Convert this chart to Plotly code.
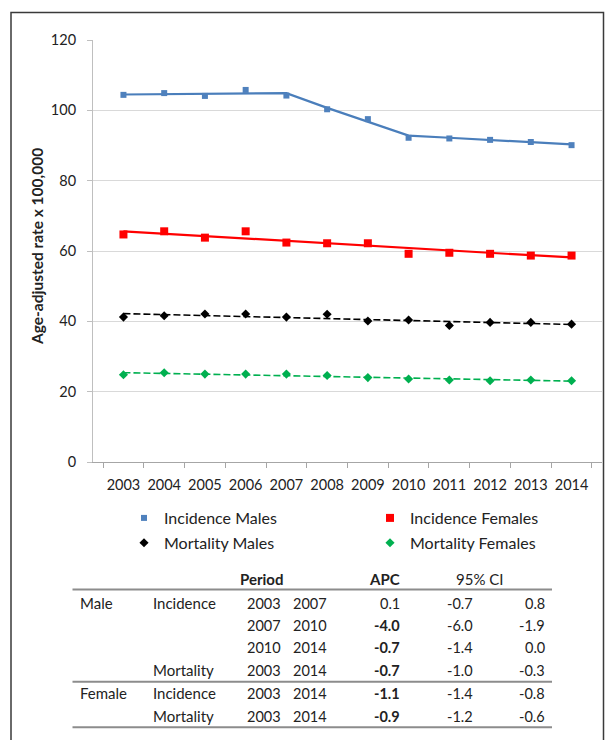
import plotly.graph_objects as go

# Observed age-adjusted rates per 100,000
years = ["2003", "2004", "2005", "2006", "2007", "2008",
         "2009", "2010", "2011", "2012", "2013", "2014"]
inc_males = [104.4, 104.9, 104.1, 105.8, 104.2, 100.3, 97.5, 92.2, 92.0, 91.6, 91.0, 90.1]
inc_females = [64.7, 65.6, 63.8, 65.6, 62.4, 62.2, 62.2, 59.2, 59.5, 59.2, 58.7, 58.7]
mort_males = [41.2, 41.6, 42.1, 42.1, 41.2, 42.0, 40.1, 40.4, 38.8, 39.7, 39.7, 39.2]
mort_females = [24.8, 25.4, 25.0, 25.0, 25.0, 24.6, 24.0, 23.6, 23.3, 23.1, 23.3, 23.1]

# Joinpoint fitted trends
fit_inc_males = [104.5, 104.6, 104.7, 104.8, 104.9, 100.7, 96.7, 92.8, 92.2, 91.5, 90.9, 90.3]
fit_inc_females = [65.6, 64.9, 64.2, 63.5, 62.8, 62.1, 61.4, 60.7, 60.0, 59.4, 58.8, 58.2]
fit_mort_males = [42.2, 41.9, 41.6, 41.3, 41.0, 40.7, 40.5, 40.2, 39.9, 39.6, 39.4, 39.1]
fit_mort_females = [25.4, 25.2, 24.9, 24.7, 24.5, 24.3, 24.1, 23.8, 23.6, 23.4, 23.2, 23.0]

# APC summary table
tbl_sex = ["Male", "", "", "", "Female", ""]
tbl_measure = ["Incidence", "", "", "Mortality", "Incidence", "Mortality"]
tbl_start = ["2003", "2007", "2010", "2003", "2003", "2003"]
tbl_end = ["2007", "2010", "2014", "2014", "2014", "2014"]
tbl_apc = ["0.1", "-4.0", "-0.7", "-0.7", "-1.1", "-0.9"]
tbl_apc_bold = [False, True, True, True, True, True]
tbl_ci_low = ["-0.7", "-6.0", "-1.4", "-1.0", "-1.4", "-1.2"]
tbl_ci_high = ["0.8", "-1.9", "0.0", "-0.3", "-0.8", "-0.6"]

FONT = "Lato"
TXT = "#222222"
W, H = 606, 740
L, R, T, B = 93, 4, 40, 278
PW, PH = W - L - R, H - T - B


def fx(p):
    return (p - L) / PW


def fy(p):
    return (H - B - p) / PH


fig = go.Figure()

# fitted trend lines
fig.add_trace(go.Scatter(x=years, y=fit_inc_males, mode="lines", showlegend=False,
                         line=dict(color="#4A7EBB", width=2.2), hoverinfo="skip"))
fig.add_trace(go.Scatter(x=years, y=fit_inc_females, mode="lines", showlegend=False,
                         line=dict(color="#FF0000", width=2.2), hoverinfo="skip"))
fig.add_trace(go.Scatter(x=years, y=fit_mort_males, mode="lines", showlegend=False,
                         line=dict(color="#000000", width=1.6, dash="7px,3px"), hoverinfo="skip"))
fig.add_trace(go.Scatter(x=years, y=fit_mort_females, mode="lines", showlegend=False,
                         line=dict(color="#00B050", width=1.6, dash="7px,3px"), hoverinfo="skip"))

# observed rates (males in the left legend column, females in the right one)
fig.add_trace(go.Scatter(x=years, y=inc_males, mode="markers", name="Incidence Males",
                         legend="legend", legendgroup="im",
                         marker=dict(symbol="square", size=6, color="#4F81BD")))
fig.add_trace(go.Scatter(x=years, y=inc_females, mode="markers", name="Incidence Females",
                         legend="legend2", legendgroup="if",
                         marker=dict(symbol="square", size=8, color="#FF0000")))
fig.add_trace(go.Scatter(x=years, y=mort_males, mode="markers", name="Mortality Males",
                         legend="legend", legendgroup="mm",
                         marker=dict(symbol="diamond", size=7, color="#000000")))
fig.add_trace(go.Scatter(x=years, y=mort_females, mode="markers", name="Mortality Females",
                         legend="legend2", legendgroup="mf",
                         marker=dict(symbol="diamond", size=7, color="#00B050")))

fig.update_xaxes(type="category", showgrid=False, showline=True, linecolor="#A6A6A6",
                 linewidth=1, ticks="outside", tickson="boundaries", ticklen=5,
                 tickcolor="#A6A6A6", tickangle=0, ticklabelstandoff=10,
                 tickfont=dict(family=FONT, size=14.5, color=TXT))
fig.update_yaxes(range=[0, 120], dtick=20, showgrid=True, gridcolor="#D9D9D9",
                 gridwidth=1, zeroline=False, showline=True, linecolor="#BFBFBF",
                 ticks="outside", ticklen=5, tickcolor="#BFBFBF", ticklabelstandoff=8,
                 tickfont=dict(family=FONT, size=14.5, color=TXT))

annotations = [
    dict(text="<b>Age-adjusted rate x 100,000</b>", x=fx(36.5), y=fy(246.5),
         textangle=-90, showarrow=False, xanchor="center", yanchor="middle",
         xref="paper", yref="paper",
         font=dict(family=FONT, size=15.5, color=TXT)),
]

WORD, NUM = 15, 14.5


def cell(text, x, y, anchor, size):
    return dict(text=text, x=fx(x), y=fy(y), xanchor=anchor, yanchor="middle",
                xref="paper", yref="paper", showarrow=False,
                font=dict(family=FONT, size=size, color=TXT))


# table header
hdr_y = 579
annotations += [
    cell("<b>Period</b>", 261.5, hdr_y, "center", WORD),
    cell("<b>APC</b>", 401.5, hdr_y, "right", WORD),
    cell("95% CI", 479, hdr_y, "center", WORD),
]

row_y = [603.3, 625.5, 647.8, 670.3, 693.3, 716]
for i, yy in enumerate(row_y):
    if tbl_sex[i]:
        annotations.append(cell(tbl_sex[i], 78, yy, "left", WORD))
    if tbl_measure[i]:
        annotations.append(cell(tbl_measure[i], 150.5, yy, "left", WORD))
    annotations.append(cell(tbl_start[i], 283, yy, "right", NUM))
    annotations.append(cell(tbl_end[i], 328.5, yy, "right", NUM))
    apc = f"<b>{tbl_apc[i]}</b>" if tbl_apc_bold[i] else tbl_apc[i]
    annotations.append(cell(apc, 401.5, yy, "right", NUM))
    annotations.append(cell(tbl_ci_low[i], 474.5, yy, "right", NUM))
    annotations.append(cell(tbl_ci_high[i], 547, yy, "right", NUM))

shapes = [
    # outer frame
    dict(type="rect", xref="paper", yref="paper", x0=fx(11), x1=fx(603.5),
         y0=fy(760), y1=fy(12.5), line=dict(color="#3A3A3A", width=1.5),
         fillcolor="rgba(0,0,0,0)", layer="below"),
]
for ly in (589.5, 681.7, 727.3):
    shapes.append(dict(type="line", xref="paper", yref="paper", x0=fx(72.5), x1=fx(552),
                       y0=fy(ly), y1=fy(ly), line=dict(color="#8C8C8C", width=2)))

legend_style = dict(orientation="v", xanchor="left", yanchor="top", itemsizing="trace",
                    font=dict(family=FONT, size=16, color=TXT),
                    bgcolor="rgba(0,0,0,0)", tracegroupgap=1)

fig.update_layout(
    width=W, height=H,
    margin=dict(l=L, r=R, t=T, b=B, pad=0),
    paper_bgcolor="white", plot_bgcolor="white",
    font=dict(family=FONT, size=14, color=TXT),
    legend=dict(x=fx(124), y=fy(501), **legend_style),
    legend2=dict(x=fx(370), y=fy(501), **legend_style),
    annotations=annotations,
    shapes=shapes,
)

fig.write_html("out.html")
